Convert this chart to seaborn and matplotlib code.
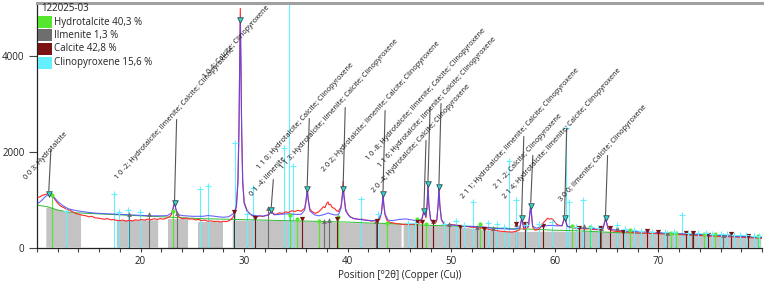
import numpy as np
import matplotlib
matplotlib.use("Agg")
import matplotlib.pyplot as plt
import seaborn as sns
from matplotlib.patches import Rectangle

# ---------------- data ----------------
obs_theta = [10.1, 10.3, 10.5, 10.7, 10.9, 11.15, 11.35, 11.5, 11.7, 11.9, 12.1, 12.3,
             12.6, 12.9, 13.2, 13.5, 13.8, 14.1, 14.4, 14.7, 15.0, 15.3, 15.6, 15.9,
             16.2, 16.5, 16.8, 17.1, 17.4, 17.7, 18.0, 18.3, 18.6, 18.9, 19.2, 19.5,
             19.8, 20.1, 20.4, 20.7, 21.0, 21.3, 21.6, 21.9, 22.2, 22.5, 22.8, 23.0,
             23.15, 23.28, 23.4, 23.6, 23.8, 24.1, 24.4, 24.7, 25.0, 25.3, 25.6, 25.9,
             26.2, 26.5, 26.8, 27.1, 27.4, 27.7, 28.0, 28.3, 28.6, 28.9, 29.1, 29.25,
             29.4, 29.5, 29.57, 29.63, 29.69, 29.76, 29.86, 30.0, 30.3, 30.6, 30.9,
             31.2, 31.5, 31.8, 32.1, 32.4, 32.62, 32.85, 33.1, 33.4, 33.7, 34.0, 34.3,
             34.6, 34.9, 35.2, 35.5, 35.85, 36.0, 36.09, 36.18, 36.35, 36.6, 36.9,
             37.2, 37.45, 37.65, 37.8, 37.95, 38.1, 38.2, 38.35, 38.5, 38.7, 38.9,
             39.1, 39.35, 39.48, 39.56, 39.64, 39.8, 40.0, 40.2, 40.5, 40.8, 41.1,
             41.4, 41.7, 42.0, 42.3, 42.6, 42.9, 43.1, 43.25, 43.34, 43.41, 43.48,
             43.6, 43.8, 44.1, 44.4, 44.7, 45.0, 45.3, 45.6, 45.9, 46.2, 46.5, 46.8,
             47.0, 47.15, 47.36, 47.55, 47.67, 47.75, 47.83, 48.0, 48.3, 48.5, 48.6,
             48.73, 48.81, 48.89, 49.05, 49.3, 49.6, 49.9, 50.3, 50.7, 51.1, 51.5,
             51.9, 52.3, 52.7, 53.1, 53.5, 53.9, 54.3, 54.7, 55.1, 55.5, 55.9, 56.3,
             56.6, 56.8, 57.0, 57.25, 57.45, 57.67, 57.85, 58.1, 58.4, 58.7, 58.9,
             59.1, 59.3, 59.5, 59.7, 59.9, 60.2, 60.5, 60.7, 60.94, 61.2, 61.5, 61.8,
             62.1, 62.5, 62.9, 63.3, 63.7, 64.1, 64.4, 64.65, 64.89, 65.15, 65.5,
             65.9, 66.3, 66.8, 67.3, 67.8, 68.3, 68.8, 69.3, 69.8, 70.3, 70.8, 71.3,
             71.8, 72.3, 72.8, 73.3, 73.8, 74.3, 74.8, 75.3, 75.8, 76.3, 76.8, 77.3,
             77.8, 78.3, 78.8, 79.3, 79.8, 80.0]
observed = [1040, 1060, 1085, 1100, 1110, 1125, 1105, 1080, 1010, 950, 900, 860,
            830, 790, 775, 735, 705, 690, 670, 662, 640, 650, 618, 612,
            600, 588, 602, 575, 582, 565, 560, 572, 548, 566, 554, 576,
            566, 582, 570, 592, 578, 600, 584, 602, 590, 612, 640, 690,
            820, 980, 800, 660, 620, 600, 612, 590, 598, 575, 585, 560,
            570, 548, 555, 540, 548, 532, 545, 540, 565, 620, 720, 850,
            1400, 2500, 3900, 4980, 3900, 2500, 1400, 950, 760, 690, 650,
            640, 660, 645, 668, 690, 760, 700, 690, 722, 710, 742, 730,
            765, 750, 775, 755, 820, 1020, 1240, 1020, 800, 740, 712,
            745, 800, 850, 830, 910, 950, 890, 900, 830, 820, 770,
            750, 850, 1100, 1380, 1100, 800, 700, 650, 610, 598, 585,
            590, 570, 565, 548, 556, 560, 600, 700, 900, 1130, 900,
            680, 560, 520, 512, 498, 492, 480, 485, 470, 490, 478, 500,
            520, 560, 780, 620, 900, 1340, 900, 580, 500, 520, 560,
            900, 1280, 900, 580, 480, 468, 482, 470, 458, 448, 440,
            425, 420, 408, 400, 385, 365, 355, 340, 332, 325, 322, 340,
            370, 610, 380, 400, 430, 880, 430, 360, 375, 440, 520,
            560, 610, 590, 600, 560, 480, 455, 450, 650, 440, 425, 410,
            400, 395, 385, 392, 375, 370, 380, 390, 610, 390, 350,
            335, 330, 322, 318, 305, 300, 298, 295, 290, 285, 282, 276,
            272, 268, 262, 258, 252, 248, 242, 238, 232, 228, 226, 222,
            216, 210, 204, 198, 192, 190]

calc_theta = [10.1, 10.5, 10.8, 11.15, 11.5, 12.0, 12.5, 13.0, 13.5, 14.0, 15.0, 16.0,
              17.0, 18.0, 19.0, 20.0, 21.0, 22.0, 22.6, 23.0, 23.15, 23.28, 23.4, 23.6,
              24.0, 25.0, 26.0, 26.5, 27.0, 27.5, 28.0, 28.5, 29.0, 29.25, 29.4, 29.5,
              29.57, 29.63, 29.69, 29.76, 29.86, 30.0, 30.3, 30.7, 31.2, 31.8, 32.3,
              32.62, 32.9, 33.5, 34.0, 34.5, 35.0, 35.5, 35.85, 36.0, 36.09, 36.18,
              36.35, 36.8, 37.2, 37.6, 37.9, 38.1, 38.35, 38.7, 39.1, 39.35, 39.48,
              39.56, 39.64, 39.8, 40.2, 40.6, 41.0, 41.5, 42.0, 42.5, 43.0, 43.25,
              43.34, 43.41, 43.48, 43.6, 43.9, 44.3, 45.0, 45.6, 46.2, 46.8, 47.15,
              47.36, 47.55, 47.67, 47.75, 47.83, 48.0, 48.3, 48.6, 48.73, 48.81, 48.89,
              49.05, 49.4, 50.0, 51.0, 52.0, 53.0, 54.0, 55.0, 56.0, 56.6, 56.8, 57.0,
              57.45, 57.67, 57.85, 58.2, 58.6, 59.0, 59.4, 59.8, 60.2, 60.7, 60.94,
              61.2, 61.6, 62.0, 63.0, 64.0, 64.65, 64.89, 65.15, 66.0, 67.0, 68.0,
              69.0, 70.0, 71.0, 72.0, 73.0, 74.0, 75.0, 76.0, 77.0, 78.0, 79.0, 80.0]
calculated = [920, 990, 1060, 1110, 1080, 960, 870, 810, 780, 760, 730, 710,
              700, 690, 680, 670, 660, 660, 665, 720, 830, 920, 810, 690,
              665, 650, 650, 665, 655, 640, 630, 640, 710, 860, 1350, 2400,
              3800, 4740, 3800, 2400, 1350, 920, 750, 680, 660, 655, 670,
              740, 680, 690, 700, 700, 690, 690, 780, 1000, 1210, 1000,
              760, 680, 660, 680, 700, 720, 700, 680, 680, 820, 1050,
              1220, 1050, 760, 640, 600, 590, 575, 565, 560, 590, 720,
              900, 1110, 900, 700, 570, 560, 585, 595, 575, 545, 600,
              760, 640, 900, 1320, 900, 590, 520, 580, 880, 1260, 880,
              580, 480, 470, 450, 440, 430, 400, 390, 380, 410, 600, 420,
              450, 870, 450, 400, 430, 450, 460, 460, 450, 460, 620,
              440, 420, 410, 400, 390, 400, 600, 390, 360, 340, 330,
              320, 310, 300, 290, 280, 270, 260, 250, 240, 230, 220, 210]

bg_theta = [10.1, 11, 12, 13, 14, 16, 18, 20, 22, 24, 26, 28, 30, 32, 34, 36, 38, 40,
            42, 44, 46, 48, 50, 52, 54, 56, 58, 60, 62, 64, 66, 68, 70, 72, 74, 76,
            78, 80]
background = [880, 850, 780, 740, 720, 700, 680, 660, 640, 620, 600, 590, 580, 570,
              560, 550, 540, 530, 510, 500, 480, 460, 450, 430, 410, 390, 380, 360,
              350, 330, 310, 300, 290, 275, 260, 245, 230, 215]

nan = float("nan")
gray_theta = [10.9, 11.5, 12.5, 13.5, 14.25, nan, 17.7, 19.0, 21.7, nan, 22.6, 24.6, nan,
              25.5, 28.0, nan, 28.9, 32.0, 36.0, 40.0, 45.2, nan, 45.4, 50.0, 55.0,
              60.0, 65.0, 70.0, 75.0, 79.92]
gray_top = [830, 820, 760, 720, 700, nan, 570, 560, 570, nan, 590, 590, nan,
            530, 530, nan, 560, 560, 540, 510, 490, nan, 480, 440, 320,
            330, 320, 280, 240, 215]

hydro_pos = [11.45, 23.1, 34.45, 35.1, 37.2, 39.1, 43.8, 46.7, 47.6, 52.8, 61.7, 63.4,
             67.3, 71.2, 71.7, 74.4, 75.5, 79.6]
hydro_int = [1100, 770, 667, 600, 560, 640, 520, 600, 500, 500, 440, 420,
             370, 312, 312, 290, 290, 250]
ilm_pos = [18.85, 20.8, 23.5, 32.3, 37.7, 38.2, 42.7, 48.2, 49.8, 52.5, 54.0, 56.2,
           62.8, 64.5, 66.0, 70.8, 73.2, 76.2]
ilm_int = [708, 690, 715, 830, 560, 580, 560, 560, 500, 420, 400, 480,
           440, 400, 400, 300, 312, 260]
cal_pos = [29.0, 31.0, 35.6, 39.0, 42.8, 46.7, 47.2, 48.2, 50.8, 53.2, 56.2, 57.1,
           58.9, 62.3, 64.4, 65.3, 66.6, 68.9, 70.0, 72.7, 73.3, 74.8, 77.0, 78.6]
cal_int = [730, 625, 600, 600, 560, 540, 540, 540, 430, 380, 500, 500,
           440, 400, 400, 400, 330, 350, 330, 312, 312, 270, 290, 240]
cpx_pos = [12.8, 17.4, 17.9, 18.8, 19.9, 25.7, 26.5, 29.1, 30.3, 30.9, 33.8, 34.3,
           34.75, 41.3, 42.9, 45.8, 46.5, 49.3, 50.5, 51.2, 52.1, 53.5, 54.4, 55.1,
           55.6, 56.2, 57.2, 58.5, 59.7, 61.1, 61.35, 62.0, 62.7, 63.5, 64.2, 66.0,
           66.8, 67.6, 68.3, 69.4, 70.6, 71.5, 72.3, 72.9, 73.8, 74.6, 75.2, 76.0,
           76.6, 77.3, 77.9, 78.5, 79.2, 79.7]
cpx_int = [760, 1125, 730, 790, 750, 1210, 1290, 2170, 700, 1250, 2080, 5400,
           1690, 1020, 708, 520, 520, 480, 560, 470, 940, 520, 500, 430,
           1810, 980, 460, 480, 540, 2480, 940, 430, 980, 420, 400, 460,
           380, 360, 350, 330, 330, 320, 667, 310, 300, 300, 290, 280,
           280, 270, 260, 260, 250, 250]

peak_pos = [11.14, 23.28, 29.63, 32.62, 36.09, 39.56, 43.41, 47.36, 47.75, 48.81,
            56.80, 57.67, 60.94, 64.89]
peak_int = [1125, 923, 4730, 790, 1229, 1229, 1125, 770, 1333, 1270, 610, 875, 625, 610]
peak_labels = [
    "0 0 3; Hydrotalcite",
    "1 0 -2; Hydrotalcite; Ilmenite; Calcite; Clinopyroxene",
    "1 0 4; Calcite; Clinopyroxene",
    "0 1 -4; Ilmenite",
    "1 1 0; Hydrotalcite; Calcite; Clinopyroxene",
    "1 1 3; Hydrotalcite; Ilmenite; Calcite; Clinopyroxene",
    "2 0 2; Hydrotalcite; Ilmenite; Calcite; Clinopyroxene",
    "1 0 -8; Hydrotalcite; Ilmenite; Calcite; Clinopyroxene",
    "1 1 6; Hydrotalcite; Ilmenite; Calcite; Clinopyroxene",
    "2 0 -4; Hydrotalcite; Calcite; Clinopyroxene",
    "2 1 1; Hydrotalcite; Ilmenite; Calcite; Clinopyroxene",
    "2 1 -2; Calcite; Clinopyroxene",
    "2 1 4; Hydrotalcite; Ilmenite; Calcite; Clinopyroxene",
    "3 0 0; Ilmenite; Calcite; Clinopyroxene",
]

legend_names = ["Hydrotalcite 40,3 %", "Ilmenite 1,3 %", "Calcite 42,8 %",
                "Clinopyroxene 15,6 %"]
sample_name = "122025-03"
x_ticks = [10, 20, 30, 40, 50, 60, 70, 80]
y_ticks = [0, 2000, 4000]

# ---------------- layout (positions of the labels / leaders) ----------------
label_cx = [10.90, 23.28, 29.25, 32.33, 35.90, 39.17, 43.22, 47.60, 48.61, 47.12,
            56.61, 57.43, 60.70, 64.65]
label_cy = [1917, 2781, 4271, 1479, 2729, 2990, 2927, 3188, 3031, 2281,
            2375, 2000, 2385, 1969]
leader_top = [2042, 2667, None, 1417, 2688, 2917, 2854, 2229, 2896, 3000,
              2313, 1917, 2479, 1917]

C_HYD = "#55e62e"
C_ILM = "#6e6e6e"
C_CAL = "#7a1414"
C_CPX = "#66f0ff"

sns.set_theme(style="white")
plt.rcParams["font.family"] = ["Open Sans", "DejaVu Sans"]

W, H = 766, 283
fig = plt.figure(figsize=(W / 100, H / 100), dpi=100)
ax = fig.add_axes([37 / W, (H - 247.5) / H, 725 / W, 244.5 / H])
ax.set_facecolor("white")

g = np.array(gray_theta, dtype=float)
gt = np.array(gray_top, dtype=float)
ax.fill_between(g, 0, gt, color="#c3c3c3", lw=0, zorder=1)

# reference sticks
ax.vlines(hydro_pos, 0, hydro_int, colors=C_HYD, lw=0.8, zorder=2)
ax.vlines(ilm_pos, 0, ilm_int, colors=C_ILM, lw=0.8, zorder=2)
ax.vlines(cal_pos, 0, cal_int, colors=C_CAL, lw=0.8, zorder=2)
ax.vlines(cpx_pos, 0, cpx_int, colors=C_CPX, lw=0.8, zorder=2)

sns.lineplot(x=bg_theta, y=background, ax=ax, color="#33bb33", lw=0.7, zorder=3,
             estimator=None, sort=False)
sns.lineplot(x=obs_theta, y=observed, ax=ax, color="#ff2a2a", lw=0.8, zorder=4,
             estimator=None, sort=False)
sns.lineplot(x=calc_theta, y=calculated, ax=ax, color="#4a4aff", lw=0.8, zorder=5,
             estimator=None, sort=False, alpha=0.85)

ax.scatter(hydro_pos, hydro_int, marker="o", s=9, color=C_HYD, zorder=6, lw=0)
ax.scatter(ilm_pos, ilm_int, marker="^", s=12, color=C_ILM, zorder=6, lw=0)
ax.scatter(cal_pos, cal_int, marker="v", s=14, color=C_CAL, zorder=6, lw=0)
ax.scatter(cpx_pos, cpx_int, marker="+", s=22, color=C_CPX, zorder=6, lw=0.8)

# leaders and labels
for px, pi, lt in zip(peak_pos, peak_int, leader_top):
    if lt is not None:
        ax.plot([px + 0.2, px], [lt, pi + 60], color="#555555", lw=0.8, zorder=6)
ax.scatter(peak_pos, peak_int, marker="v", s=16, facecolor="#33d6d6",
           edgecolor="#2e4a4a", lw=0.6, zorder=7)
for lab, cx, cy in zip(peak_labels, label_cx, label_cy):
    ax.text(cx, cy, lab, rotation=48, rotation_mode="anchor", ha="center",
            va="center", fontsize=5.2, color="#111111", clip_on=False, zorder=8)

ax.set_xlim(10.077, 79.92)
ax.set_ylim(0, 5094)
ax.set_xticks(x_ticks)
ax.set_xticklabels([str(t) if 15 < t < 75 else "" for t in x_ticks])
ax.set_xticks(np.arange(10, 81, 2), minor=True)
ax.set_yticks(y_ticks)
ax.set_yticklabels([str(t) for t in y_ticks])
ax.tick_params(axis="x", which="both", direction="out", length=3, width=0.8,
               colors="#444444", labelsize=7, pad=3, labelcolor="#222222")
ax.tick_params(axis="y", which="both", direction="out", length=6, width=0.8,
               colors="#444444", labelsize=7, pad=3, labelcolor="#222222")
ax.tick_params(bottom=True, left=True, which="both")
ax.set_xlabel("Position [°2θ] (Copper (Cu))", fontsize=7, labelpad=2, color="#222222")
ax.set_ylabel("")

for side in ["left", "bottom"]:
    ax.spines[side].set_color("#222222")
    ax.spines[side].set_linewidth(0.9)
ax.spines["top"].set_color("#a0a0a0")
ax.spines["top"].set_linewidth(2.2)
ax.spines["right"].set_visible(False)

# legend box (top-left)
fig.text(41 / W, 1 - 8.5 / H, sample_name, ha="left", va="center", fontsize=7,
         color="#222222")
for i, (name, col) in enumerate(zip(legend_names, [C_HYD, C_ILM, C_CAL, C_CPX])):
    top = [16, 29.5, 43, 57][i]
    fig.add_artist(Rectangle((38 / W, 1 - (top + 12) / H), 14 / W, 12 / H,
                             transform=fig.transFigure, color=col, lw=0))
    fig.text(54 / W, 1 - (top + 6) / H, name, ha="left", va="center", fontsize=7,
             color="#222222")

fig.savefig("out.png", dpi=100)
